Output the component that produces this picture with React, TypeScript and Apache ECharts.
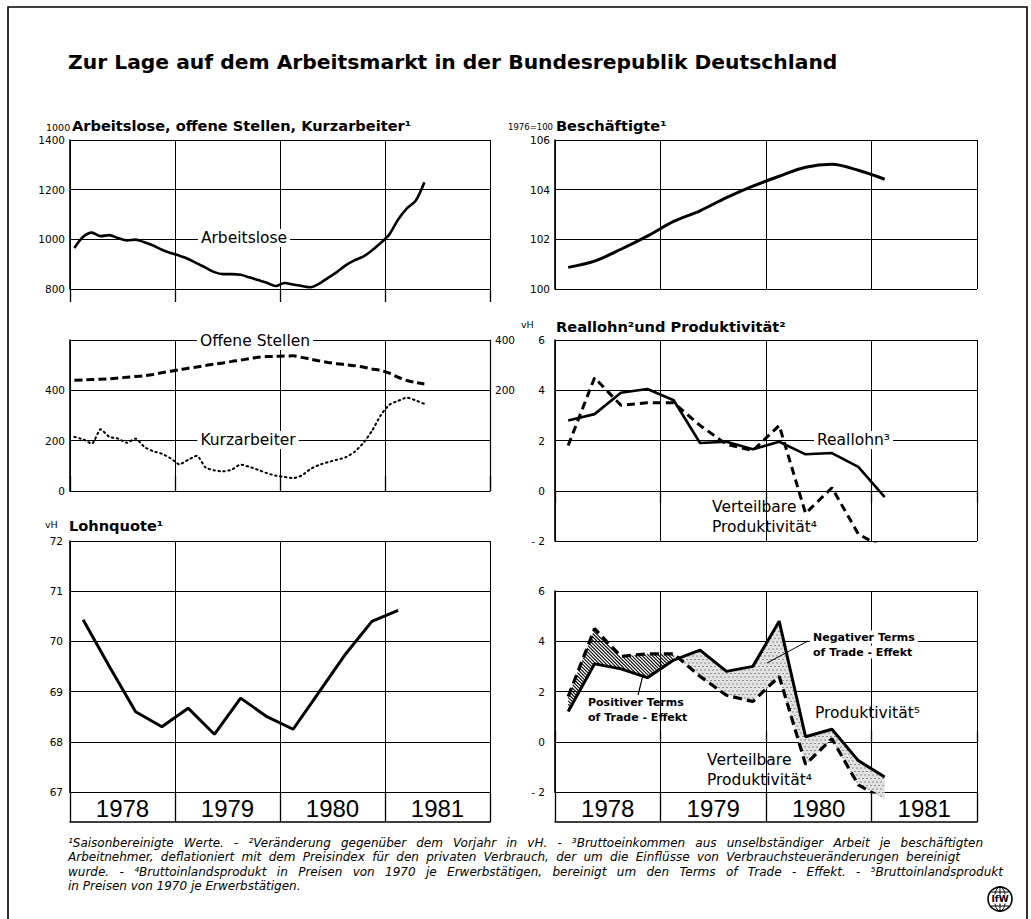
import React, { useEffect, useRef } from "react";
import * as echarts from "echarts";

// ---------------- data ----------------
const YEARS = ["1978", "1979", "1980", "1981"];
// monthly, Jan 1978 .. May 1981 (1000)
const arbeitslose = [965, 1010, 1027, 1013, 1017, 1005, 996, 999, 988, 975, 958, 945, 934, 921, 903, 886, 868, 860, 860, 857, 847, 836, 825, 812, 824, 818, 812, 807, 822, 845, 868, 895, 915, 930, 955, 985, 1020, 1080, 1125, 1155, 1230];
const offeneStellen = [240, 241, 243, 244, 246, 249, 252, 255, 258, 263, 270, 276, 282, 288, 293, 299, 304, 309, 315, 320, 326, 331, 334, 335, 336, 337, 331, 324, 317, 311, 306, 302, 298, 293, 285, 279, 268, 252, 239, 231, 225];
const kurzarbeiter = [215, 205, 188, 245, 215, 208, 192, 208, 175, 158, 148, 130, 106, 124, 140, 93, 82, 78, 85, 105, 96, 84, 71, 61, 56, 51, 62, 88, 104, 115, 124, 134, 155, 190, 238, 300, 343, 358, 371, 360, 346];
// quarterly, Q1 1978 .. Q1 1981
const beschaeftigte = [100.87, 101.12, 101.6, 102.13, 102.72, 103.15, 103.68, 104.14, 104.54, 104.9, 105.02, 104.78, 104.42];
const lohnquote = [70.43, 69.5, 68.6, 68.3, 68.67, 68.15, 68.87, 68.5, 68.25, 69.0, 69.75, 70.4, 70.62];
const reallohn = [2.8, 3.05, 3.9, 4.05, 3.6, 1.9, 1.95, 1.65, 1.95, 1.45, 1.5, 0.95, -0.25];
const verteilbareProd = [1.8, 4.5, 3.4, 3.5, 3.5, 2.6, 1.85, 1.6, 2.6, -0.9, 0.12, -1.72, -2.3];
const produktivitaet = [1.2, 3.1, 2.9, 2.55, 3.25, 3.65, 2.8, 3.0, 4.8, 0.2, 0.5, -0.75, -1.4];

const FOOTNOTES = [
  "¹Saisonbereinigte Werte.  -  ²Veränderung gegenüber dem Vorjahr in vH.  -  ³Bruttoeinkommen aus unselbständiger Arbeit je beschäftigten",
  "Arbeitnehmer, deflationiert mit dem Preisindex für den privaten Verbrauch, der um die Einflüsse von Verbrauchsteueränderungen bereinigt",
  "wurde.  -  ⁴Bruttoinlandsprodukt in Preisen von 1970 je Erwerbstätigen, bereinigt um den Terms of Trade - Effekt.  -  ⁵Bruttoinlandsprodukt",
  "in Preisen von 1970 je Erwerbstätigen.",
];
const FOOTNOTE_RIGHT = [983, 960, 1003, 0];

const W = 1031;
const H = 919;
const FONT = "'DejaVu Sans', 'Liberation Sans', sans-serif";
const YEAR_FONT = "'Liberation Sans', 'DejaVu Sans', sans-serif";

const mx = (i: number) => 1978 + (i + 0.5) / 12;
const qx = (i: number) => 1978 + (i + 0.5) / 4;

type Pt = number[];

function edgeHits(poly: Pt[], f: (p: Pt) => number, g: (p: Pt) => number, c: number): number[] {
  const out: number[] = [];
  for (let k = 0; k < poly.length; k++) {
    const a = poly[k];
    const b = poly[(k + 1) % poly.length];
    const fa = f(a) - c;
    const fb = f(b) - c;
    if ((fa < 0 && fb >= 0) || (fb < 0 && fa >= 0)) {
      const s = fa / (fa - fb);
      out.push(g(a) + s * (g(b) - g(a)));
    }
  }
  return out.sort((p, q) => p - q);
}

function inside(poly: Pt[], x: number, y: number) {
  let r = false;
  for (let i = 0, j = poly.length - 1; i < poly.length; j = i++) {
    const [xi, yi] = poly[i];
    const [xj, yj] = poly[j];
    if (yi > y !== yj > y && x < ((xj - xi) * (y - yi)) / (yj - yi) + xi) r = !r;
  }
  return r;
}

function hatchEls(poly: Pt[]) {
  const els: any[] = [];
  const f = (p: Pt) => p[1] - p[0];
  let lo = Infinity;
  let hi = -Infinity;
  poly.forEach((p) => {
    lo = Math.min(lo, f(p));
    hi = Math.max(hi, f(p));
  });
  const step = 3.4;
  for (let c = Math.ceil(lo / step) * step; c <= hi; c += step) {
    const xs = edgeHits(poly, f, (p) => p[0], c);
    for (let k = 0; k + 1 < xs.length; k += 2) {
      els.push({
        type: "line",
        shape: { x1: xs[k], y1: xs[k] + c, x2: xs[k + 1], y2: xs[k + 1] + c },
        style: { stroke: "#000", lineWidth: 1.1 },
      });
    }
  }
  return els;
}

function stippleEls(poly: Pt[]) {
  const els: any[] = [{ type: "polygon", shape: { points: poly }, style: { fill: "#e2e2e2" } }];
  let x0 = Infinity, x1 = -Infinity, y0 = Infinity, y1 = -Infinity;
  poly.forEach((p) => {
    x0 = Math.min(x0, p[0]);
    x1 = Math.max(x1, p[0]);
    y0 = Math.min(y0, p[1]);
    y1 = Math.max(y1, p[1]);
  });
  let row = 0;
  for (let y = Math.floor(y0); y <= y1; y += 3.5, row++) {
    for (let x = Math.floor(x0) + (row % 2 ? 2 : 0); x <= x1; x += 4) {
      if (inside(poly, x, y)) {
        els.push({ type: "rect", shape: { x: x - 0.6, y: y - 0.6, width: 1.2, height: 1.2 }, style: { fill: "#555" } });
      }
    }
  }
  return els;
}

export default function App() {
  const ref = useRef<HTMLDivElement>(null);

  useEffect(() => {
    const chart = echarts.init(ref.current!, null, { renderer: "svg", width: W, height: H });

    const black = "#000";
    const split = { show: true, lineStyle: { color: black, width: 1 } };
    const lbl = { color: black, fontFamily: FONT, fontSize: 10.5, formatter: (v: number) => String(v) };

    const grids = [
      { left: 70, top: 140, width: 420, height: 149 },
      { left: 70, top: 340, width: 420, height: 151 },
      { left: 70, top: 541, width: 420, height: 251 },
      { left: 555, top: 140, width: 422, height: 149 },
      { left: 555, top: 340, width: 422, height: 201 },
      { left: 555, top: 591, width: 422, height: 201 },
    ];

    const valX = (gridIndex: number, extra: any = {}) => ({
      type: "value",
      gridIndex,
      min: 1978,
      max: 1982,
      interval: 1,
      splitLine: split,
      axisLine: { show: false },
      axisTick: { show: false },
      axisLabel: { show: false },
      ...extra,
    });
    const yearX = (gridIndex: number) => ({
      type: "category",
      gridIndex,
      position: "bottom",
      data: YEARS,
      boundaryGap: true,
      axisLine: { show: true, lineStyle: { color: black, width: 1 } },
      axisTick: { show: true, length: 30, lineStyle: { color: black, width: 1.3 } },
      splitLine: { show: false },
      axisLabel: { color: black, fontFamily: YEAR_FONT, fontSize: 24, margin: 4, lineHeight: 24 },
    });
    const frameX = (gridIndex: number) => ({
      type: "value",
      gridIndex,
      position: "bottom",
      offset: 30,
      min: 1978,
      max: 1982,
      axisLine: { show: true, lineStyle: { color: black, width: 1.5 } },
      axisTick: { show: false },
      axisLabel: { show: false },
      splitLine: { show: false },
    });

    const xAxis = [
      valX(0, { position: "bottom", axisTick: { show: true, length: 13, lineStyle: { color: black, width: 1.3 } } }), // 0
      valX(1, { position: "top", axisTick: { show: true, length: 15, lineStyle: { color: black, width: 1.3 } } }), // 1
      valX(2, { position: "top" }), // 2
      yearX(2), // 3
      frameX(2), // 4
      valX(3, { position: "bottom" }), // 5
      valX(4, { position: "bottom", axisTick: { show: true, length: 12, lineStyle: { color: black, width: 1.3 } } }), // 6
      valX(5, { position: "top", axisTick: { show: true, length: 11, lineStyle: { color: black, width: 1.3 } } }), // 7
      yearX(5), // 8
      frameX(5), // 9
    ];

    const valY = (gridIndex: number, min: number, max: number, interval: number, extra: any = {}) => ({
      type: "value",
      gridIndex,
      min,
      max,
      interval,
      splitLine: split,
      axisLine: { show: true, lineStyle: { color: black, width: 1.6 } },
      axisTick: { show: false },
      axisLabel: { ...lbl, margin: 6 },
      ...extra,
    });

    const vh = (v: number) => (v < 0 ? "- " + Math.abs(v) : String(v));
    const yAxis = [
      valY(0, 800, 1400, 200, { axisLabel: { ...lbl, margin: 5 } }), // 0
      valY(1, 0, 600, 200, { axisLabel: { ...lbl, margin: 5, formatter: (v: number) => (v === 600 ? "" : String(v)) } }), // 1
      valY(1, -200, 400, 200, {
        position: "right",
        splitLine: { show: false },
        axisLine: { show: true, lineStyle: { color: black, width: 1.2 } },
        axisLabel: { ...lbl, margin: 5, formatter: (v: number) => (v >= 200 ? String(v) : "") },
      }), // 2
      valY(2, 67, 72, 1, { axisLabel: { ...lbl, margin: 7 } }), // 3
      valY(3, 100, 106, 2, { axisLabel: { ...lbl, margin: 5 } }), // 4
      valY(4, -2, 6, 2, { axisLabel: { ...lbl, margin: 10, formatter: vh } }), // 5
      valY(5, -2, 6, 2, { axisLabel: { ...lbl, margin: 10, formatter: vh } }), // 6
    ];

    const line = (name: string, xi: number, yi: number, data: number[][], style: any, extra: any = {}) => ({
      name,
      type: "line",
      xAxisIndex: xi,
      yAxisIndex: yi,
      data,
      symbol: "none",
      lineStyle: { color: black, ...style },
      z: 5,
      ...extra,
    });

    const monthly = (arr: number[]) => arr.map((v, i) => [mx(i), v]);
    const quarterly = (arr: number[]) => arr.map((v, i) => [qx(i), v]);

    const posIdx = verteilbareProd.map((_, i) => i).filter((i) => i <= 4);
    const negIdx = verteilbareProd.map((_, i) => i).filter((i) => i >= 4);

    const series: any[] = [
      line("Arbeitslose", 0, 0, monthly(arbeitslose), { width: 2.6 }, { smooth: 0.3 }),
      line("Offene Stellen", 1, 2, monthly(offeneStellen), { width: 3, type: [8, 4] }, { smooth: 0.3 }),
      line("Kurzarbeiter", 1, 1, monthly(kurzarbeiter), { width: 2, type: [1.5, 3.5], cap: "round" }, { smooth: 0.2 }),
      line("Lohnquote", 2, 3, quarterly(lohnquote), { width: 3 }),
      line("Beschäftigte", 5, 4, quarterly(beschaeftigte), { width: 3 }, { smooth: 0.3 }),
      line("Reallohn", 6, 5, quarterly(reallohn), { width: 2.6 }),
      line("Verteilbare Produktivität", 6, 5, quarterly(verteilbareProd), { width: 3, type: [8, 5] }),
      {
        type: "custom",
        name: "Terms of Trade",
        coordinateSystem: "cartesian2d",
        xAxisIndex: 7,
        yAxisIndex: 6,
        data: [[1979, 2]],
        clip: false,
        silent: true,
        z: 2,
        renderItem: (_params: any, api: any) => {
          const P = (arr: number[], i: number) => api.coord([qx(i), arr[i]]);
          const pos = [
            ...posIdx.map((i) => P(verteilbareProd, i)),
            ...posIdx.slice().reverse().map((i) => P(produktivitaet, i)),
          ];
          const neg = [
            ...negIdx.map((i) => P(produktivitaet, i)),
            ...negIdx.slice().reverse().map((i) => P(verteilbareProd, i)),
          ];
          return { type: "group", children: [...stippleEls(neg), ...hatchEls(pos)] };
        },
      },
      line("Produktivität", 7, 6, quarterly(produktivitaet), { width: 3 }),
      line("Verteilbare Produktivität ", 7, 6, quarterly(verteilbareProd), { width: 3.2, type: [9, 5] }),
    ];

    const T = (x: number, y: number, text: string, o: any = {}) => ({
      type: "text",
      x,
      y,
      z: 100,
      style: {
        text,
        fill: black,
        fontFamily: o.family ?? FONT,
        fontSize: o.size ?? 14,
        fontWeight: o.weight ?? "normal",
        fontStyle: o.fstyle ?? "normal",
        align: o.align ?? "left",
        verticalAlign: "middle",
        textAlign: o.align ?? "left",
        textVerticalAlign: "middle",
        backgroundColor: o.bg,
        padding: o.bg ? [1, 3, 1, 3] : 0,
      },
    });
    const L = (x1: number, y1: number, x2: number, y2: number, w = 1) => ({
      type: "line",
      z: 100,
      shape: { x1, y1, x2, y2 },
      style: { stroke: black, lineWidth: w },
    });

    const FN_SIZE = 12;
    const mctx = document.createElement("canvas").getContext("2d")!;
    mctx.font = `italic ${FN_SIZE}px 'DejaVu Sans'`;
    const footEls: any[] = [];
    FOOTNOTES.forEach((ln, li) => {
      const y = 843 + li * 14.4;
      const words = ln.split(/\s+/).filter(Boolean);
      const widths = words.map((w) => mctx.measureText(w).width);
      const total = widths.reduce((a, b) => a + b, 0);
      const sp = mctx.measureText(" ").width;
      const right = FOOTNOTE_RIGHT[li];
      let gap = right ? (right - 68 - total) / (words.length - 1) : sp;
      if (!(gap > sp * 0.6)) gap = sp;
      let x = 68;
      words.forEach((w, i) => {
        footEls.push(T(x, y, w, { size: FN_SIZE, fstyle: "italic" }));
        x += widths[i] + gap;
      });
    });

    const graphic: any[] = [
      { type: "rect", z: 0, shape: { x: 8, y: 7, width: 1019, height: 940 }, style: { fill: "none", stroke: black, lineWidth: 1.6 } },
      T(68, 62, "Zur Lage auf dem Arbeitsmarkt in der Bundesrepublik Deutschland", { size: 20.3, weight: "bold" }),
      T(46, 127, "1000", { size: 9.5 }),
      T(72, 125, "Arbeitslose, offene Stellen, Kurzarbeiter¹", { size: 14.6, weight: "bold" }),
      T(508, 127, "1976=100", { size: 8.5 }),
      T(556, 125, "Beschäftigte¹", { size: 14.6, weight: "bold" }),
      T(521, 324, "vH", { size: 9.5 }),
      T(556, 326, "Reallohn²und Produktivität²", { size: 14.6, weight: "bold" }),
      T(45, 524, "vH", { size: 9.5 }),
      T(69, 525, "Lohnquote¹", { size: 14.6, weight: "bold" }),
      T(244, 238, "Arbeitslose", { size: 15.5, align: "center", bg: "#fff" }),
      T(255, 341, "Offene Stellen", { size: 15.5, align: "center", bg: "#fff" }),
      T(248, 440, "Kurzarbeiter", { size: 15.5, align: "center", bg: "#fff" }),
      T(814, 440, "Reallohn³", { size: 15.5, bg: "#fff" }),
      T(712, 507, "Verteilbare", { size: 15.5 }),
      T(712, 527, "Produktivität⁴", { size: 15.5 }),
      T(815, 713, "Produktivität⁵", { size: 15.5 }),
      T(707, 760, "Verteilbare", { size: 15.5 }),
      T(707, 780, "Produktivität⁴", { size: 15.5 }),
      T(810, 637, "Negativer Terms", { size: 11, weight: "bold", bg: "#fff" }),
      T(810, 652, "of Trade - Effekt", { size: 11, weight: "bold", bg: "#fff" }),
      T(588, 702, "Positiver Terms", { size: 11, weight: "bold" }),
      T(588, 717, "of Trade - Effekt", { size: 11, weight: "bold" }),
      L(808, 641, 767, 663, 1),
      L(643, 675, 638, 695, 1.2),
      ...footEls,
      {
        type: "group",
        x: 1000,
        y: 899,
        z: 100,
        children: [
          { type: "circle", shape: { cx: 0, cy: 0, r: 12 }, style: { fill: "#fff", stroke: black, lineWidth: 1.6 } },
          { type: "ellipse", shape: { cx: 0, cy: 0, rx: 5.5, ry: 12 }, style: { fill: "none", stroke: black, lineWidth: 1 } },
          { type: "line", shape: { x1: 0, y1: -12, x2: 0, y2: 12 }, style: { stroke: black, lineWidth: 1 } },
          { type: "line", shape: { x1: -9, y1: -7, x2: 9, y2: -7 }, style: { stroke: black, lineWidth: 1 } },
          { type: "line", shape: { x1: -9, y1: 7, x2: 9, y2: 7 }, style: { stroke: black, lineWidth: 1 } },
          {
            type: "text",
            x: 0,
            y: 0,
            style: {
              text: "IfW",
              fill: black,
              fontFamily: FONT,
              fontSize: 9,
              fontWeight: "bold",
              align: "center",
              verticalAlign: "middle",
              textAlign: "center",
              textVerticalAlign: "middle",
              backgroundColor: "#fff",
              padding: [0, 1, 0, 1],
            },
          },
        ],
      },
    ];

    chart.setOption({
      animation: false,
      backgroundColor: "#fff",
      grid: grids,
      xAxis,
      yAxis,
      series,
      graphic,
    });

    return () => chart.dispose();
  }, []);

  return (
    <div
      ref={ref}
      style={{ position: "absolute", left: 0, top: 0, width: W, height: H, background: "#fff" }}
    />
  );
}
